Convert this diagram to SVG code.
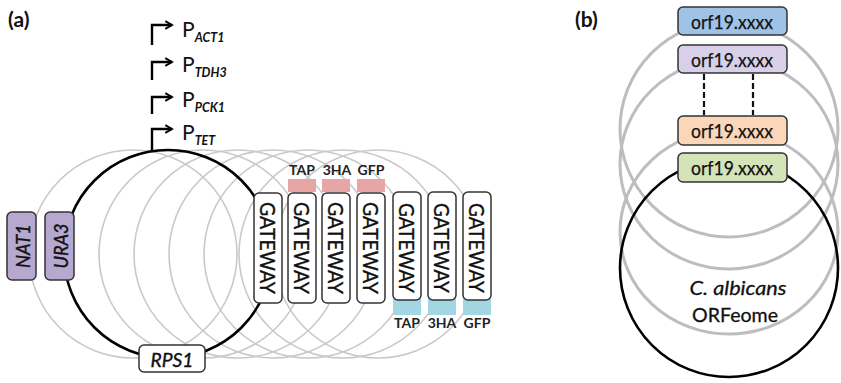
<svg xmlns="http://www.w3.org/2000/svg" width="841" height="383" viewBox="0 0 841 383">
<defs>
<style>
text{font-family:Lato,"Open Sans","Liberation Sans",sans-serif;fill:#111}
.lbl{font-weight:bold;font-size:21px}
.gc{fill:none;stroke:#c9c9c9;stroke-width:1.6}
.gcb{fill:none;stroke:#bdbdbd;stroke-width:3}
.bc{fill:none;stroke:#000;stroke-width:2.6}
.box{stroke:#333;stroke-width:1.5}
.gw{fill:#fff;stroke:#333;stroke-width:1.5}
.gwt{font-size:21px;text-anchor:middle;dominant-baseline:central;stroke:#111;stroke-width:0.35}
.tag{font-size:14px;font-weight:bold;text-anchor:middle;fill:#222}
.pro{stroke:#000;stroke-width:2.4;fill:none}
.P{font-size:21px}
.sub{font-size:12.5px;font-style:italic;font-weight:bold}
.orf{font-size:19px;text-anchor:middle;dominant-baseline:central;stroke:#111;stroke-width:0.25}
.mk{font-size:20px;font-style:italic;text-anchor:middle;dominant-baseline:central;stroke:#111;stroke-width:0.4}
</style>
<marker id="ah" viewBox="0 0 10 10" refX="8" refY="5" markerWidth="4" markerHeight="4" orient="auto" markerUnits="strokeWidth">
<path d="M1,1 L8,5 L1,9" fill="none" stroke="#000" stroke-width="2"/>
</marker>
</defs>
<rect width="841" height="383" fill="#fff"/>
<text class="lbl" x="8" y="27">(a)</text>
<text class="lbl" x="575" y="27">(b)</text>

<g id="plasmids-a">
<circle class="gc" cx="133" cy="254" r="104"/>
<circle class="gc" cx="203" cy="254" r="104"/>
<circle class="gc" cx="238" cy="254" r="104"/>
<circle class="gc" cx="273" cy="254" r="104"/>
<circle class="gc" cx="308" cy="254" r="104"/>
<circle class="gc" cx="343" cy="254" r="104"/>
<circle class="gc" cx="378" cy="254" r="104"/>
<circle class="bc" cx="168" cy="254" r="104"/>
</g>

<g id="connectors">
<path class="pro" d="M152,45 V25 H172" marker-end="url(#ah)"/>
<path class="pro" d="M152,80 V62 H172" marker-end="url(#ah)"/>
<path class="pro" d="M152,114 V97 H172" marker-end="url(#ah)"/>
<path class="pro" d="M152,151 V129 H172" marker-end="url(#ah)"/>
<path d="M704,74 V115 M753,74 V115" stroke="#111" stroke-width="2.2" stroke-dasharray="6,3" fill="none"/>
</g>

<g id="promoters">
<text class="P" x="182" y="37">P<tspan class="sub" dy="5">ACT1</tspan></text>
<text class="P" x="182" y="72">P<tspan class="sub" dy="5">TDH3</tspan></text>
<text class="P" x="182" y="107">P<tspan class="sub" dy="5">PCK1</tspan></text>
<text class="P" x="182" y="140">P<tspan class="sub" dy="5">TET</tspan></text>
</g>

<g id="nat1">
<rect class="box" x="7" y="212" width="29" height="68" rx="5" fill="#b6a8cf"/>
<text class="mk" transform="translate(22,246) rotate(-90)" textLength="44" lengthAdjust="spacingAndGlyphs">NAT1</text>
</g>
<g id="ura3">
<rect class="box" x="45" y="212" width="29" height="68" rx="5" fill="#b6a8cf"/>
<text class="mk" transform="translate(60,246) rotate(-90)" textLength="45" lengthAdjust="spacingAndGlyphs">URA3</text>
</g>
<g id="rps1">
<rect class="gw" x="139" y="345" width="66" height="27" rx="5"/>
<text class="mk" x="172" y="359" textLength="43" lengthAdjust="spacingAndGlyphs">RPS1</text>
</g>

<g id="gateway1">
<rect class="gw" x="254" y="193" width="28" height="110" rx="5"/>
<text class="gwt" transform="translate(268,248) rotate(90)" textLength="92" lengthAdjust="spacingAndGlyphs">GATEWAY</text>
</g>
<g id="gateway-tap-n">
<rect x="288" y="179" width="28" height="13" fill="#e8a5a5"/>
<text class="tag" x="302" y="175">TAP</text>
<rect class="gw" x="288" y="193" width="28" height="110" rx="5"/>
<text class="gwt" transform="translate(302,248) rotate(90)" textLength="92" lengthAdjust="spacingAndGlyphs">GATEWAY</text>
</g>
<g id="gateway-3ha-n">
<rect x="322" y="179" width="28" height="13" fill="#e8a5a5"/>
<text class="tag" x="337" y="175">3HA</text>
<rect class="gw" x="322" y="193" width="28" height="110" rx="5"/>
<text class="gwt" transform="translate(336,248) rotate(90)" textLength="92" lengthAdjust="spacingAndGlyphs">GATEWAY</text>
</g>
<g id="gateway-gfp-n">
<rect x="357" y="179" width="28" height="13" fill="#e8a5a5"/>
<text class="tag" x="371" y="175">GFP</text>
<rect class="gw" x="357" y="193" width="28" height="110" rx="5"/>
<text class="gwt" transform="translate(371,248) rotate(90)" textLength="92" lengthAdjust="spacingAndGlyphs">GATEWAY</text>
</g>
<g id="gateway-tap-c">
<rect x="393" y="298" width="28" height="17" fill="#a3d6e3"/>
<rect class="gw" x="393" y="192" width="28" height="108" rx="5"/>
<text class="gwt" transform="translate(407,248) rotate(90)" textLength="90" lengthAdjust="spacingAndGlyphs">GATEWAY</text>
<text class="tag" x="407" y="328">TAP</text>
</g>
<g id="gateway-3ha-c">
<rect x="428" y="298" width="28" height="17" fill="#a3d6e3"/>
<rect class="gw" x="428" y="192" width="28" height="108" rx="5"/>
<text class="gwt" transform="translate(442,248) rotate(90)" textLength="90" lengthAdjust="spacingAndGlyphs">GATEWAY</text>
<text class="tag" x="442" y="328">3HA</text>
</g>
<g id="gateway-gfp-c">
<rect x="463" y="298" width="28" height="17" fill="#a3d6e3"/>
<rect class="gw" x="463" y="192" width="28" height="108" rx="5"/>
<text class="gwt" transform="translate(477,248) rotate(90)" textLength="90" lengthAdjust="spacingAndGlyphs">GATEWAY</text>
<text class="tag" x="477" y="328">GFP</text>
</g>

<g id="plasmids-b">
<ellipse class="gcb" cx="729" cy="129" rx="109" ry="108"/>
<ellipse class="gcb" cx="729" cy="164" rx="109" ry="105"/>
<ellipse class="gcb" cx="729" cy="232" rx="109" ry="102"/>
<circle class="bc" cx="729" cy="268" r="109"/>
</g>

<g id="orf-blue">
<rect class="box" x="678" y="7" width="109" height="28" rx="5" fill="#9ec3e6"/>
<text class="orf" x="732" y="21" textLength="82" lengthAdjust="spacingAndGlyphs">orf19.xxxx</text>
</g>
<g id="orf-purple">
<rect class="box" x="678" y="45" width="109" height="28" rx="5" fill="#d8d0e8"/>
<text class="orf" x="732" y="59" textLength="82" lengthAdjust="spacingAndGlyphs">orf19.xxxx</text>
</g>
<g id="orf-orange">
<rect class="box" x="678" y="116" width="109" height="29" rx="5" fill="#fbd6b8"/>
<text class="orf" x="732" y="130" textLength="82" lengthAdjust="spacingAndGlyphs">orf19.xxxx</text>
</g>
<g id="orf-green">
<rect class="box" x="678" y="153" width="109" height="29" rx="5" fill="#d5e3b8"/>
<text class="orf" x="732" y="167" textLength="82" lengthAdjust="spacingAndGlyphs">orf19.xxxx</text>
</g>
<g id="orfeome">
<text x="738" y="295" style="font-size:20px;font-style:italic;text-anchor:middle;stroke:#111;stroke-width:0.3" textLength="97" lengthAdjust="spacingAndGlyphs">C. albicans</text>
<text x="735" y="322" style="font-size:20px;text-anchor:middle;stroke:#111;stroke-width:0.3" textLength="86" lengthAdjust="spacingAndGlyphs">ORFeome</text>
</g>
</svg>
